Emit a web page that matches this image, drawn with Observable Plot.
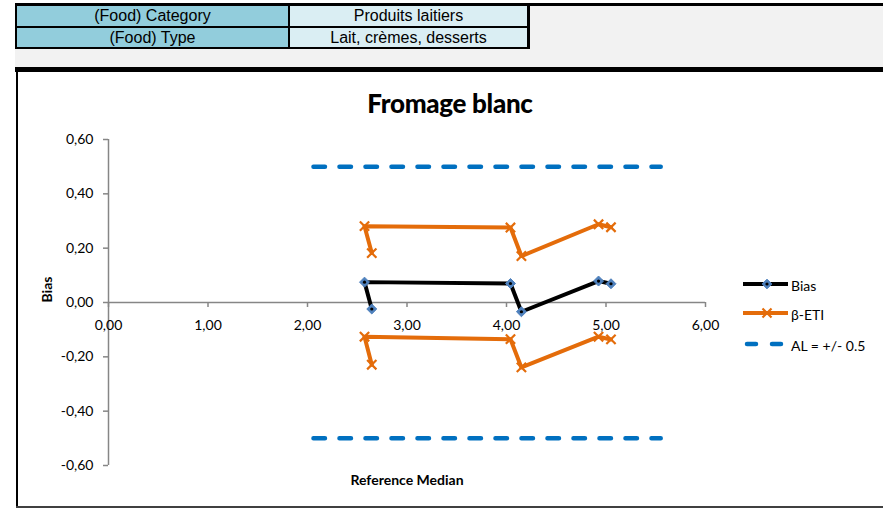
<!DOCTYPE html>
<html><head><meta charset="utf-8">
<script src="https://cdn.jsdelivr.net/npm/d3@7"></script>
<script src="https://cdn.jsdelivr.net/npm/@observablehq/plot@0.6"></script>
<style>
html,body{margin:0;padding:0;background:#fff;}
body{width:883px;height:509px;position:relative;overflow:hidden;font-family:Lato,"Open Sans",sans-serif;}
.abs{position:absolute;}
.cell{position:absolute;font-family:"Liberation Sans",Arial,sans-serif;font-size:16px;color:#000;text-align:center;white-space:nowrap;}
.ca{background:#92CDDC;}
.cb{background:#DAEEF3;}
#title{position:absolute;left:0;width:900px;text-align:center;top:88px;font-family:Lato,sans-serif;font-weight:900;font-size:26px;line-height:30px;color:#000;letter-spacing:-0.3px;}
#chart{position:absolute;left:0;top:125px;}
#legend{position:absolute;left:740px;top:265px;}
</style></head><body>
<div class="abs" style="left:15px;top:3px;width:868px;height:3px;background:#000"></div>
<div class="abs" style="left:15px;top:6px;width:868px;height:61px;background:#f2f2f2"></div>
<div class="abs" style="left:15px;top:4px;width:515px;height:45px;background:#000"></div>
<div id="a1" class="cell ca" style="left:17px;top:6px;width:271px;height:20px;line-height:20px"></div>
<div id="b1" class="cell cb" style="left:290px;top:6px;width:237px;height:20px;line-height:20px"></div>
<div id="a2" class="cell ca" style="left:17px;top:28px;width:271px;height:19px;line-height:19px"></div>
<div id="b2" class="cell cb" style="left:290px;top:28px;width:237px;height:19px;line-height:19px"></div>
<div class="abs" style="left:15px;top:67px;width:868px;height:5px;background:#000"></div>
<div class="abs" style="left:16px;top:72px;width:2px;height:435px;background:#000"></div>
<div class="abs" style="left:16px;top:506px;width:867px;height:2px;background:#404040"></div>
<div id="title"></div>
<div id="chart"></div>
<svg id="legend" width="143" height="95"></svg>
<script>
// ---- data ----
const tableLabels = ["(Food) Category", "(Food) Type"];
const tableValues = ["Produits laitiers", "Lait, crèmes, desserts"];
const chartTitle = "Fromage blanc";
const medians  = [2.646, 2.573, 4.04, 4.15, 4.925, 5.05];
const bias     = [-0.024, 0.075, 0.070, -0.034, 0.079, 0.069];
const etiUpper = [0.182, 0.281, 0.276, 0.171, 0.288, 0.277];
const etiLower = [-0.229, -0.126, -0.135, -0.239, -0.126, -0.136];
const alLevels = [0.5, -0.5];
const alRange  = [2.06, 5.55];
const xTicks = [0, 1, 2, 3, 4, 5, 6];
const yTicks = [-0.6, -0.4, -0.2, 0, 0.2, 0.4, 0.6];
const seriesNames = ["Bias", "β-ETI", "AL = +/- 0.5"];
const xLabel = "Reference Median";
const yLabel = "Bias";

document.getElementById("a1").textContent = tableLabels[0];
document.getElementById("a2").textContent = tableLabels[1];
document.getElementById("b1").textContent = tableValues[0];
document.getElementById("b2").textContent = tableValues[1];
document.getElementById("title").textContent = chartTitle;

const fmt = d => (Math.abs(d) < 1e-9 ? 0 : d).toFixed(2).replace(".", ",");
const biasData = medians.map((x, i) => ({x, y: bias[i]}));
const etiData = [
  ...medians.map((x, i) => ({x, y: etiUpper[i], s: "up"})),
  ...medians.map((x, i) => ({x, y: etiLower[i], s: "low"}))
];
const alData = alLevels.flatMap(l => alRange.map(x => ({x, y: l, s: String(l)})));

const chart = Plot.plot({
  width: 883, height: 383,
  marginLeft: 108, marginRight: 178, marginTop: 14, marginBottom: 43,
  x: {domain: [0, 6]},
  y: {domain: [-0.6, 0.6]},
  style: {fontFamily: "Lato, sans-serif", fontSize: "14px", color: "#000", background: "transparent", overflow: "visible"},
  marks: [
    Plot.ruleX([0], {y1: -0.6, y2: 0.6, stroke: "#868686", strokeWidth: 1.5}),
    Plot.axisY(yTicks, {anchor: "left", tickSize: 5, tickPadding: 10, tickFormat: fmt, stroke: "#868686", strokeWidth: 1.5, fill: "#000", label: null, fontSize: 14}),
    Plot.ruleY([0], {x1: 0, x2: 6, stroke: "#868686", strokeWidth: 1.5}),
    Plot.axisX(xTicks, {anchor: "bottom", dy: -163, tickSize: 5, tickPadding: 13, tickFormat: fmt, stroke: "#868686", strokeWidth: 1.5, fill: "#000", label: null, fontSize: 14}),
    Plot.line(alData, {x: "x", y: "y", z: "s", stroke: "#0070C0", strokeWidth: 4.5, strokeDasharray: "11.5,14.5", strokeLinecap: "round"}),
    Plot.line(etiData, {x: "x", y: "y", z: "s", stroke: "#E46C0A", strokeWidth: 4}),
    Plot.dot(etiData, {x: "x", y: "y", symbol: "times", r: 4.3, stroke: "#E46C0A", strokeWidth: 2.2}),
    Plot.line(biasData, {x: "x", y: "y", stroke: "#000", strokeWidth: 4}),
    Plot.dot(biasData, {x: "x", y: "y", symbol: "diamond2", r: 4.5, fill: "#4F81BD", stroke: "#4F81BD", strokeWidth: 1}),
    Plot.dot(biasData, {x: "x", y: "y", r: 1.6, fill: "#000", stroke: "none"}),
    Plot.text([yLabel], {text: d => d, frameAnchor: "left", dx: -61, rotate: -90, fontWeight: "bold", fontSize: 14}),
    Plot.text([xLabel], {text: d => d, frameAnchor: "bottom", dy: 19, fontWeight: "bold", fontSize: 14})
  ]
});
document.getElementById("chart").appendChild(chart);

// legend
const lg = d3.select("#legend");
const rows = [19, 48, 79];
lg.append("line").attr("x1", 3).attr("x2", 48).attr("y1", rows[0]).attr("y2", rows[0]).attr("stroke", "#000").attr("stroke-width", 4);
lg.append("path").attr("d", d3.symbol(d3.symbolDiamond2, 60)()).attr("transform", `translate(27,${rows[0]})`).attr("fill", "#4F81BD").attr("stroke", "#4F81BD");
lg.append("circle").attr("cx", 27).attr("cy", rows[0]).attr("r", 1.6).attr("fill", "#000");
lg.append("line").attr("x1", 3).attr("x2", 48).attr("y1", rows[1]).attr("y2", rows[1]).attr("stroke", "#E46C0A").attr("stroke-width", 4);
lg.append("path").attr("d", d3.symbol(d3.symbolTimes, 55)()).attr("transform", `translate(27,${rows[1]})`).attr("fill", "none").attr("stroke", "#E46C0A").attr("stroke-width", 2.2);
lg.append("line").attr("x1", 7).attr("x2", 42).attr("y1", rows[2]).attr("y2", rows[2]).attr("stroke", "#0070C0").attr("stroke-width", 4.5).attr("stroke-dasharray", "9,16").attr("stroke-linecap", "round");
seriesNames.forEach((n, i) => {
  lg.append("text").attr("x", 51).attr("y", rows[i] + 1).attr("dominant-baseline", "central")
    .attr("font-family", "Lato, sans-serif").attr("font-size", 14).attr("fill", "#000").text(n);
});
</script>
</body></html>
